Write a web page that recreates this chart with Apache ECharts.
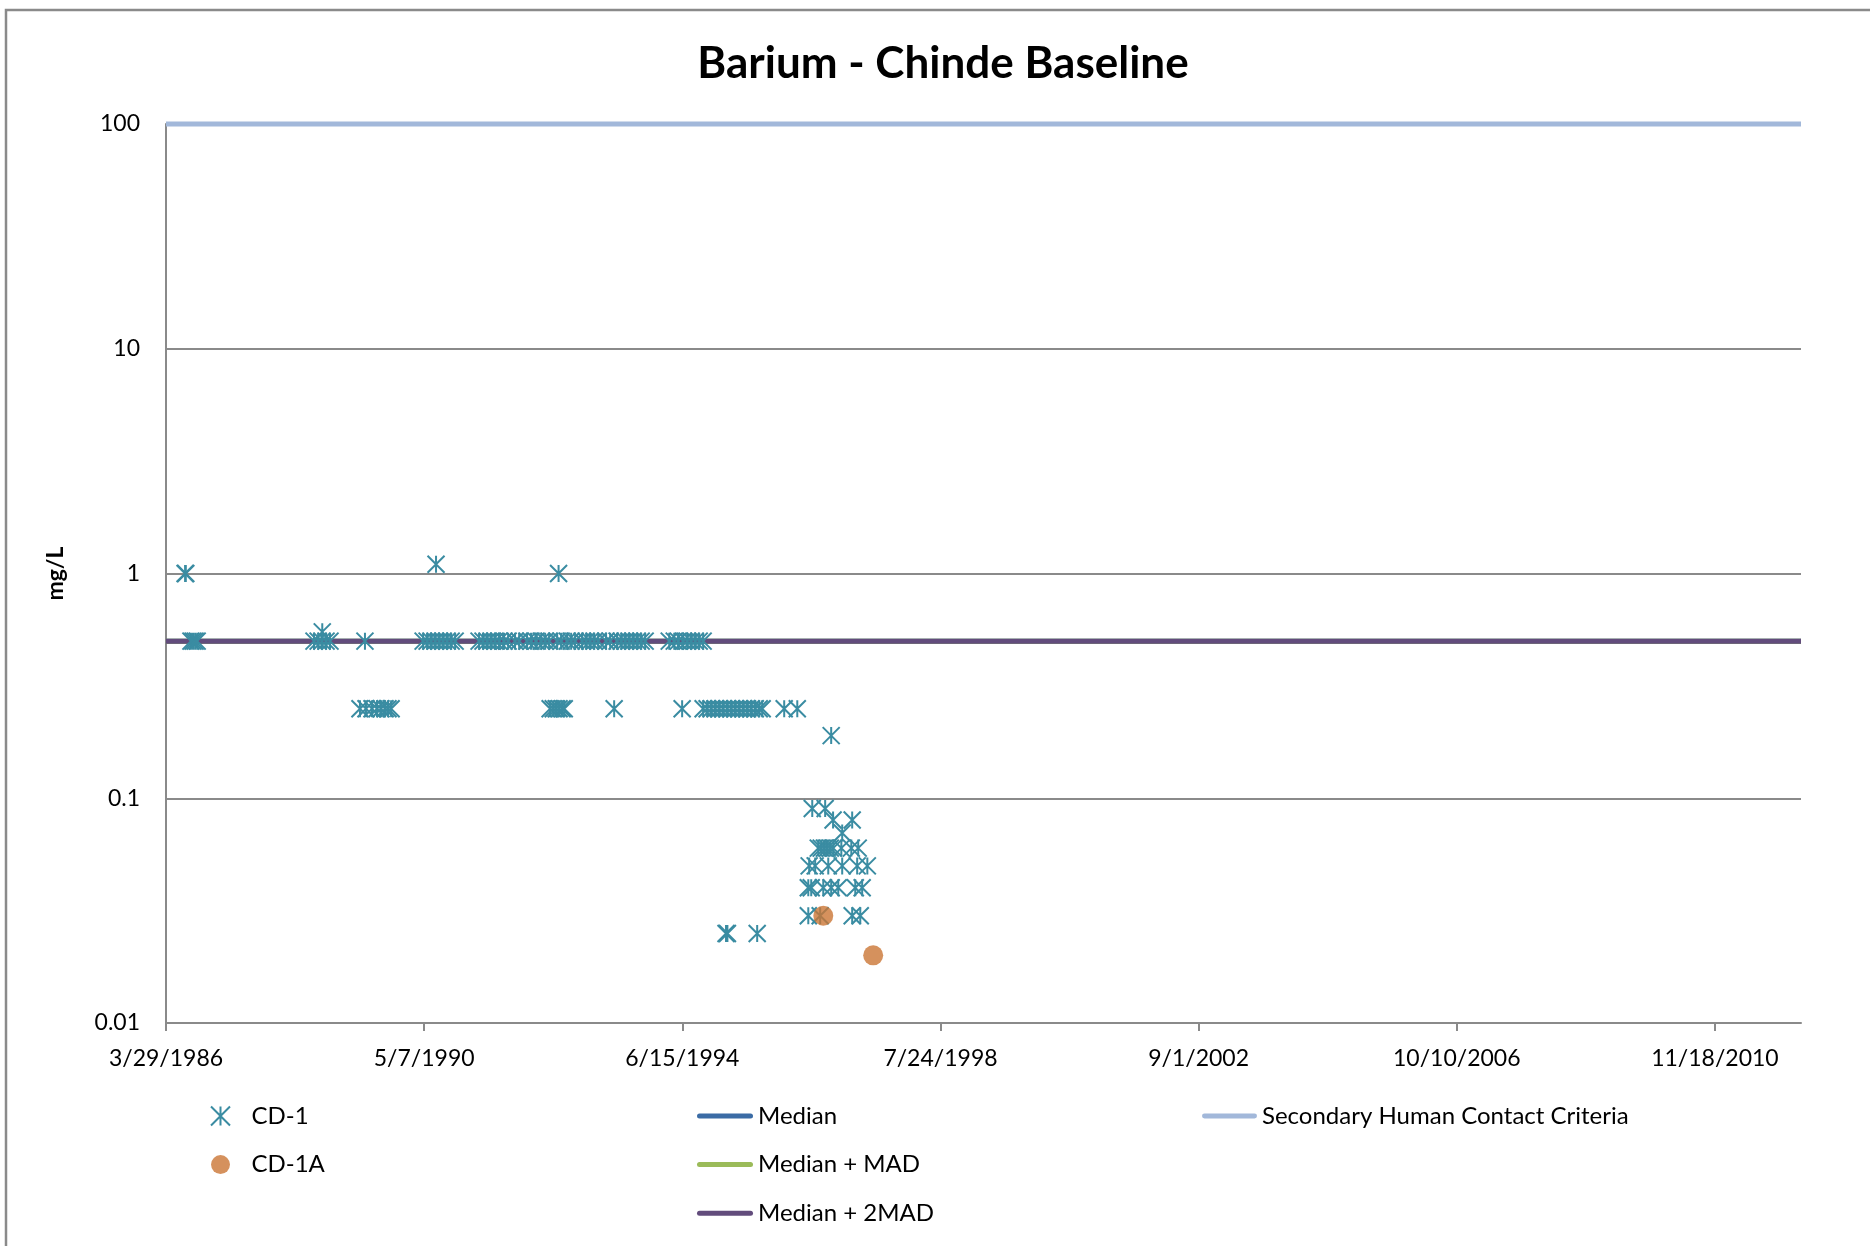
<!DOCTYPE html>
<html><head><meta charset="utf-8">
<script src="https://cdn.jsdelivr.net/npm/echarts@6/dist/echarts.min.js"></script>
<style>html,body{margin:0;padding:0;background:#fff}#c{width:1870px;height:1246px}</style>
</head><body><div id="c"></div>
<script>
const xTickDates = ['3/29/1986','5/7/1990','6/15/1994','7/24/1998','9/1/2002','10/10/2006','11/18/2010'];
const yTickLabels = ['0.01','0.1','1','10','100'];

const cd1Dates = [
 '7/18/1986','7/22/1986',
 '8/21/1986','9/2/1986','9/14/1986','9/26/1986',
 '8/5/1988','8/29/1988','9/20/1988','10/14/1988','11/6/1988','9/22/1988',
 '5/28/1989',
 '4/29/1989','6/3/1989','7/8/1989','8/6/1989','8/29/1989','9/22/1989','10/9/1989','10/27/1989',
 '5/1/1990','5/24/1990','6/16/1990','7/10/1990','8/2/1990','8/25/1990','9/17/1990','10/11/1990','11/3/1990',
 '7/15/1990',
 '3/22/1991','4/14/1991','5/8/1991','5/31/1991','6/23/1991','7/16/1991','8/14/1991','9/7/1991','10/17/1991','11/10/1991','12/26/1991',
 '1/18/1992','2/16/1992','3/17/1992','4/9/1992','5/2/1992','6/18/1992','7/11/1992','8/15/1992','9/7/1992','9/30/1992','11/10/1992','12/3/1992','12/26/1992',
 '1/19/1993','2/11/1993','3/29/1993','4/22/1993','6/1/1993','6/25/1993','7/18/1993','8/10/1993','9/2/1993','9/26/1993','10/19/1993','11/11/1993',
 '6/26/1992',
 '5/8/1992','5/26/1992','6/12/1992','6/29/1992','7/17/1992','7/29/1992',
 '5/15/1993',
 '3/31/1994','4/29/1994','5/22/1994','6/20/1994','7/13/1994','8/5/1994','8/29/1994','9/21/1994','10/14/1994',
 '6/14/1994','10/14/1994','11/6/1994','11/30/1994','12/23/1994','1/15/1995','2/7/1995','3/3/1995','3/26/1995','4/18/1995','5/11/1995','6/4/1995','6/27/1995','7/20/1995','8/13/1995','9/5/1995','9/22/1995','1/28/1996','4/13/1996',
 '2/24/1995','3/4/1995','8/24/1995',
 '10/27/1996',
 '7/9/1996','9/22/1996',
 '11/7/1996','2/26/1997',
 '12/30/1996',
 '8/13/1996','8/30/1996','9/17/1996','10/4/1996','10/22/1996','11/8/1996','12/25/1996','2/21/1997','4/2/1997',
 '6/21/1996','7/26/1996','10/10/1996','12/30/1996','3/27/1997','5/25/1997',
 '6/16/1996','7/3/1996','9/11/1996','10/27/1996','12/7/1996','3/16/1997','4/25/1997',
 '6/16/1996','8/24/1996','2/26/1997','4/14/1997'
];
const cd1Values = [
 1,1,
 0.5,0.5,0.5,0.5,
 0.5,0.5,0.5,0.5,0.5,0.55,
 0.5,
 0.25,0.25,0.25,0.25,0.25,0.25,0.25,0.25,
 0.5,0.5,0.5,0.5,0.5,0.5,0.5,0.5,0.5,
 1.1,
 0.5,0.5,0.5,0.5,0.5,0.5,0.5,0.5,0.5,0.5,0.5,
 0.5,0.5,0.5,0.5,0.5,0.5,0.5,0.5,0.5,0.5,0.5,0.5,0.5,
 0.5,0.5,0.5,0.5,0.5,0.5,0.5,0.5,0.5,0.5,0.5,0.5,
 1,
 0.25,0.25,0.25,0.25,0.25,0.25,
 0.25,
 0.5,0.5,0.5,0.5,0.5,0.5,0.5,0.5,0.5,
 0.25,0.25,0.25,0.25,0.25,0.25,0.25,0.25,0.25,0.25,0.25,0.25,0.25,0.25,0.25,0.25,0.25,0.25,0.25,
 0.025,0.025,0.025,
 0.19,
 0.09,0.09,
 0.08,0.08,
 0.07,
 0.06,0.06,0.06,0.06,0.06,0.06,0.06,0.06,0.06,
 0.05,0.05,0.05,0.05,0.05,0.05,
 0.04,0.04,0.04,0.04,0.04,0.04,0.04,
 0.03,0.03,0.03,0.03
];
const cd1aDates = ['9/11/1996','6/28/1997'];
const cd1aValues = [0.03, 0.02];

const lineDates = ['3/29/1986','4/1/2012'];
const medianValues = [0.5, 0.5];
const medianMadValues = [0.5, 0.5];
const median2MadValues = [0.5, 0.5];
const criteriaValues = [100, 100];

const BASE = Date.UTC(1986, 2, 29);
function dayOffset(s){ const p = s.split('/').map(Number); return Math.round((Date.UTC(p[2], p[0]-1, p[1]) - BASE)/86400000); }
function fmtDate(v){ const dt = new Date(BASE + Math.round(v)*86400000); return (dt.getUTCMonth()+1)+'/'+dt.getUTCDate()+'/'+dt.getUTCFullYear(); }
const xTicks = xTickDates.map(dayOffset);
function pairs(dates, vals){ return dates.map((d,i)=>[dayOffset(d), vals[i]]); }

const FONT = 'Lato';
const GRAY = '#8a8a8a';
const LINE_ICON = 'path://M2.5,0L53.5,0A2.5,2.5,0,0,1,53.5,5L2.5,5A2.5,2.5,0,0,1,2.5,0Z';
const chart = echarts.init(document.getElementById('c'), null, {renderer:'canvas'});
const lineSeries = (name, vals, color) => ({
  name, type:'line', data: pairs(lineDates, vals), symbol:'none', clip:false, z:2,
  lineStyle:{color, width:5}, itemStyle:{color}, silent:true
});
const legendText = { fontFamily:FONT, fontSize:24, color:'#000', lineHeight:20 };
chart.setOption({
  animation:false,
  backgroundColor:'#fff',
  title:{ text:'Barium - Chinde Baseline', left:943, top:42, textAlign:'center', padding:0,
    textStyle:{ fontFamily:FONT, fontWeight:'bold', fontSize:44, color:'#000' } },
  graphic:[{ type:'polyline', shape:{ points:[[6,1400],[6,10],[1900,10]] },
    style:{ fill:'none', stroke:GRAY, lineWidth:2.5 }, silent:true }],
  grid:{ left:166, right:69, top:124, bottom:223, containLabel:false },
  xAxis:{ type:'value', min:0, max:9500, interval:1500,
    axisLine:{ lineStyle:{ color:GRAY, width:2 } },
    axisTick:{ show:true, length:8, customValues:xTicks, lineStyle:{ color:GRAY, width:2 } },
    axisLabel:{ customValues:xTicks, margin:24, formatter:fmtDate, fontFamily:FONT, fontSize:23, color:'#000' },
    splitLine:{ show:false } },
  yAxis:{ type:'log', logBase:10, min:0.01, max:100,
    name:'mg/L', nameLocation:'middle', nameGap:99,
    nameTextStyle:{ fontFamily:FONT, fontWeight:'bold', fontSize:23, color:'#000' },
    axisLine:{ show:true, lineStyle:{ color:GRAY, width:2 } },
    axisTick:{ show:false },
    axisLabel:{ margin:26, fontFamily:FONT, fontSize:23, color:'#000',
      formatter: v => yTickLabels.find(t => Math.abs(Math.log10(+t) - Math.log10(v)) < 1e-6) || '' },
    splitLine:{ show:true, lineStyle:{ color:GRAY, width:2 } } },
  legend:[
    { data:['CD-1','CD-1A'], orient:'vertical', left:210, top:1104, padding:0,
      itemWidth:52, itemHeight:19, itemGap:24.6, selectedMode:false, textStyle:legendText },
    { data:['Median','Median + MAD','Median + 2MAD'], orient:'vertical', left:697, top:1104, padding:0,
      icon:LINE_ICON, itemWidth:56, itemHeight:5, itemGap:24.6, selectedMode:false, textStyle:legendText },
    { data:['Secondary Human Contact Criteria'], orient:'vertical', left:1202, top:1104, padding:0,
      icon:LINE_ICON, itemWidth:55, itemHeight:5, itemGap:24.6, selectedMode:false, textStyle:legendText }
  ],
  series:[
    lineSeries('Median', medianValues, '#3B6CA5'),
    lineSeries('Median + MAD', medianMadValues, '#9BBB59'),
    lineSeries('Median + 2MAD', median2MadValues, '#624C7C'),
    lineSeries('Secondary Human Contact Criteria', criteriaValues, '#A2B8DA'),
    { name:'CD-1', type:'scatter', data:pairs(cd1Dates, cd1Values), z:3, silent:true,
      symbol:'path://M0,0L20,20M20,0L0,20M10,0L10,20', symbolSize:17,
      itemStyle:{ color:'#3A8CA2', borderColor:'#3A8CA2', borderWidth:2, opacity:1 } },
    { name:'CD-1A', type:'scatter', data:pairs(cd1aDates, cd1aValues), z:4, silent:true,
      symbol:'circle', symbolSize:20, itemStyle:{ color:'#CB7634' } }
  ]
});
</script></body></html>
